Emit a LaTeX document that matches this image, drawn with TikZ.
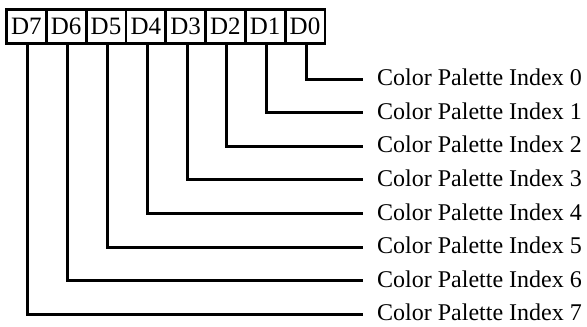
\documentclass[tikz,border=0pt]{standalone}
\usepackage{fontspec}
\setmainfont{Liberation Serif}
\begin{document}
\begin{tikzpicture}[x=1pt,y=1pt,
  bitbox/.style={draw, line width=2.8pt, minimum width=39.8pt, minimum height=34pt, inner sep=0pt, font=\fontsize{25}{28}\selectfont},
  lbl/.style={anchor=west, inner sep=0pt, font=\fontsize{24}{26}\selectfont},
  wire/.style={line width=3pt}]
\useasboundingbox (0,0) rectangle (587,-327);
\foreach \i/\n in {0/7,1/6,2/5,3/4,4/3,5/2,6/1,7/0}{
  \node[bitbox] (D\n) at ({6.5+39.8*(\i+0.5)},-26.5) {D\n};
}
\foreach \k in {0,...,7}{
  \node[lbl] (L\k) at (377,{-(77.5+33.6*\k)}) {Color Palette Index \k};
  \coordinate (E\k) at (363,{-(79+33.6*\k)});
  \draw[wire] ([xshift=1.5pt]D\k.south) |- (E\k);
}
\end{tikzpicture}
\end{document}
